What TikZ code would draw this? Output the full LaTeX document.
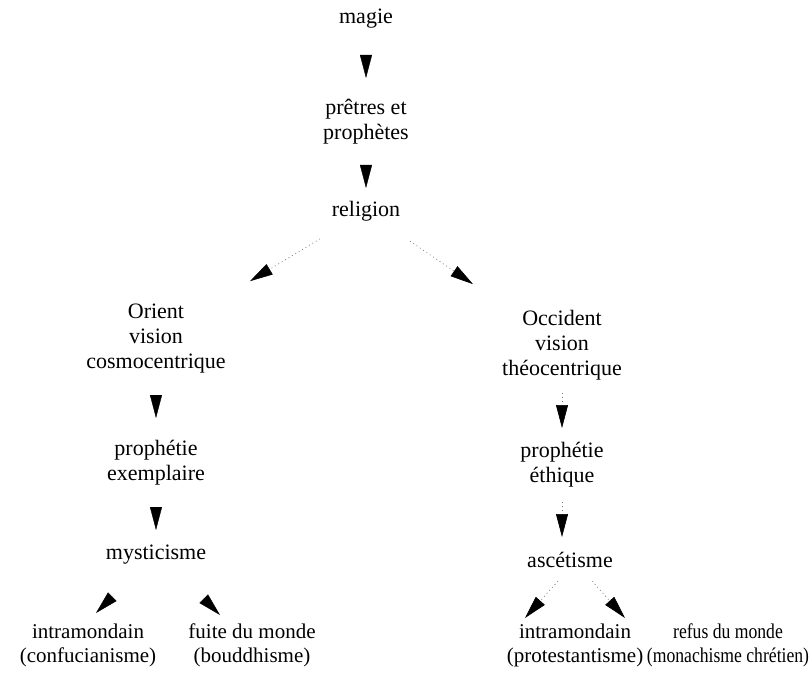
\documentclass[tikz,border=0pt]{standalone}
\usepackage{fontspec}
\setmainfont{Liberation Serif}
\usetikzlibrary{arrows.meta}
\begin{document}
\begin{tikzpicture}[x=1bp,y=-1bp,
  lbl/.style={inner sep=0pt, align=center, font=\fontsize{22bp}{25bp}\selectfont},
  lblb/.style={inner sep=0pt, align=center, font=\fontsize{21bp}{24bp}\selectfont},
  head/.style={line width=0.4pt, -{Triangle[length=23bp,width=12bp,black]}},
  shaft/.style={draw=black!55, line width=0.6pt, dash pattern=on 1pt off 3pt, -{Triangle[length=23bp,width=12bp,black]}}
]
\useasboundingbox (0,0) rectangle (811,677);
% nodes
\node[lbl] (magie)    at (366,19)    {\strut magie};
\node[lbl] (pretres)  at (366,122.5) {\strut prêtres et\\\strut prophètes};
\node[lbl] (religion) at (366,211)   {\strut religion};
\node[lbl] (orient)   at (156,338)   {\strut Orient\\\strut vision\\\strut cosmocentrique};
\node[lbl] (occident) at (562,345)   {\strut Occident\\\strut vision\\\strut théocentrique};
\node[lbl] (prophex)  at (156,462.5) {\strut prophétie\\\strut exemplaire};
\node[lbl] (propheth) at (562,464.5) {\strut prophétie\\\strut éthique};
\node[lbl] (myst)     at (156,554)   {\strut mysticisme};
\node[lbl] (ascet)    at (570,562)   {\strut ascétisme};
\node[lblb] (intraL)  at (88,645.2)  {\strut intramondain\\\strut (confucianisme)};
\node[lblb] (fuite)   at (252,645.2) {\strut fuite du monde\\\strut (bouddhisme)};
\node[lblb] (intraR)  at (575,645.2) {\strut intramondain\\\strut (protestantisme)};
\node[lblb, xscale=0.84, transform shape] (refus) at (728,645.2) {\strut refus du monde\\\strut (monachisme chrétien)};
% connectors
\draw[head, shorten <=36bp, shorten >=44.5bp] (magie.center) -- (pretres.center);
\draw[head, shorten <=42.5bp, shorten >=23bp] (pretres.center) -- (religion.center);
\draw[shaft, shorten <=53.7bp, shorten >=109.8bp] (religion.center) -- (orient.center);
\draw[shaft, shorten <=53.3bp, shorten >=107.8bp] (religion.center) -- (occident.center);
\draw[head, shorten <=57bp, shorten >=44.5bp] (orient.center) -- (prophex.center);
\draw[head, shorten <=44.5bp, shorten >=24bp] (prophex.center) -- (myst.center);
\draw[shaft, shorten <=48bp, shorten >=36.5bp] (occident.center) -- (propheth.center);
\draw[shaft, shorten <=37.5bp, shorten >=25bp] (propheth.center) -- (propheth.center |- ascet.center);
\draw[head] ([shift={(-44,43)}]myst.center) -- ([shift={(8,-32.2)}]intraL.center);
\draw[head] ([shift={(48,45)}]myst.center) -- ([shift={(-32,-30.2)}]fuite.center);
\draw[shaft] ([shift={(-12,19)}]ascet.center) -- ([shift={(-50,-27.2)}]intraR.center);
\draw[shaft] ([shift={(22,19)}]ascet.center) -- ([shift={(-103,-27.2)}]refus.center);
\end{tikzpicture}
\end{document}
